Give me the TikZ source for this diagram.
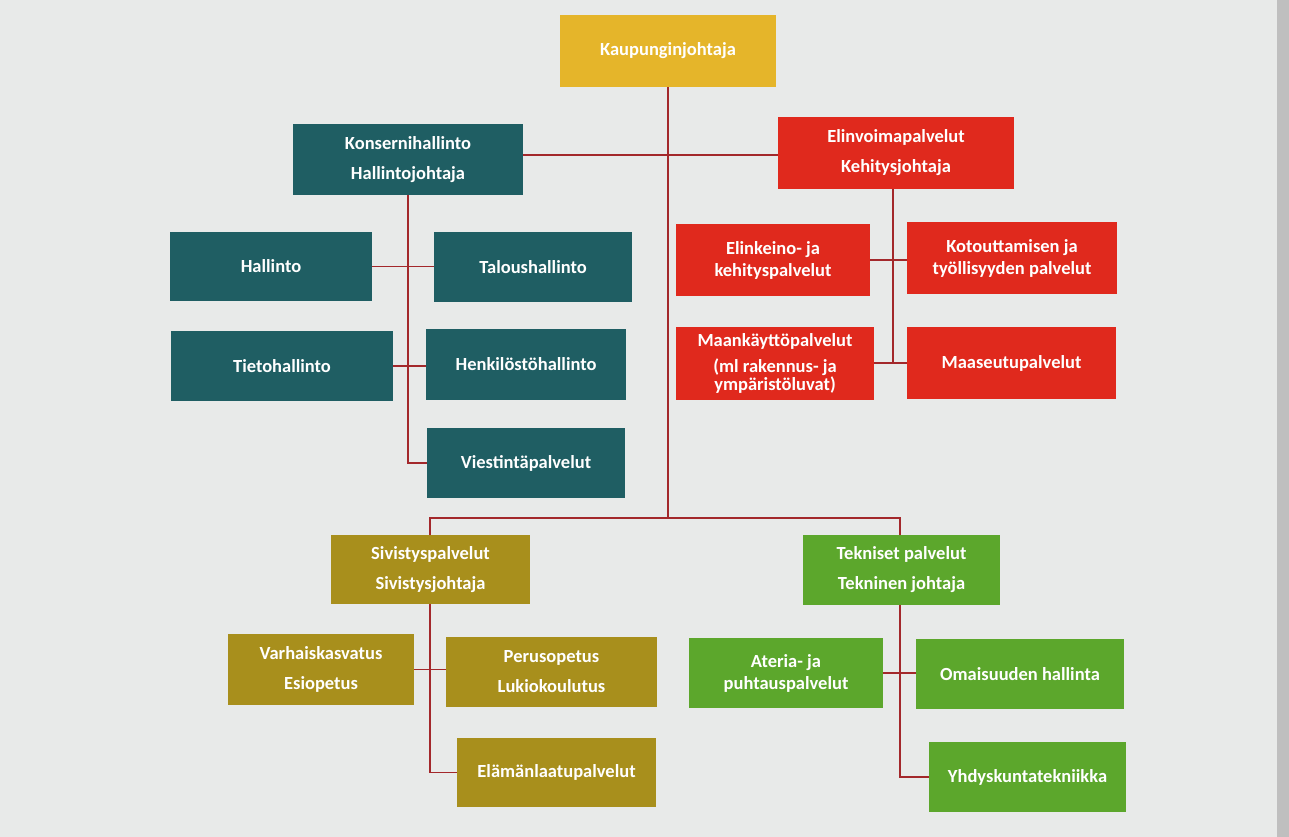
\documentclass[tikz,border=0pt]{standalone}
\usepackage{fontspec}
\setmainfont{Carlito}
\definecolor{bg}{HTML}{E8EAE9}
\definecolor{cgold}{HTML}{E5B52A}
\definecolor{cteal}{HTML}{1F5E63}
\definecolor{cred}{HTML}{E0291D}
\definecolor{colive}{HTML}{A88F1C}
\definecolor{cgreen}{HTML}{5CA72C}
\definecolor{cline}{HTML}{A3282B}
\begin{document}
\begin{tikzpicture}[x=1pt,y=-1pt,
 box/.style={draw=none,text=white,font=\bfseries\fontsize{18.5}{30}\selectfont,align=center,inner sep=0pt},
 ln/.style={draw=cline,line width=1.4pt}]
\fill[bg] (0,0) rectangle (1289,837);
\fill[black!25] (1277,0) rectangle (1289,837);
\newcommand\bx[7]{\node[box,fill=#6,minimum width={#4-#2},minimum height={#5-#3}] (#1) at ({(#2+#4)/2},{(#3+#5)/2}) {#7};}
\bx{kj}{560}{15}{776}{87}{cgold}{Kaupunginjohtaja}
\bx{kh}{293}{124}{523}{195}{cteal}{Konsernihallinto\\Hallintojohtaja}
\bx{ev}{778}{117}{1014}{189}{cred}{Elinvoimapalvelut\\Kehitysjohtaja}
\bx{ha}{170}{232}{372}{301}{cteal}{Hallinto}
\bx{ta}{434}{232}{632}{302}{cteal}{Taloushallinto}
\bx{ti}{171}{331}{393}{401}{cteal}{Tietohallinto}
\bx{he}{426}{329}{626}{400}{cteal}{Henkilöstöhallinto}
\bx{vi}{427}{428}{625}{498}{cteal}{Viestintäpalvelut}
\bx{el}{676}{224}{870}{296}{cred}{Elinkeino- ja\\[-8pt]kehityspalvelut}
\bx{ko}{907}{222}{1117}{294}{cred}{Kotouttamisen ja\\[-8pt]työllisyyden palvelut}
\bx{ma}{676}{327}{874}{400}{cred}{Maankäyttöpalvelut\\[-4pt](ml rakennus- ja\\[-12pt]ympäristöluvat)}
\bx{ms}{907}{327}{1116}{399}{cred}{Maaseutupalvelut}
\bx{si}{331}{535}{530}{604}{colive}{Sivistyspalvelut\\Sivistysjohtaja}
\bx{te}{803}{535}{1000}{605}{cgreen}{Tekniset palvelut\\Tekninen johtaja}
\bx{va}{228}{634}{414}{705}{colive}{Varhaiskasvatus\\Esiopetus}
\bx{pe}{446}{637}{657}{707}{colive}{Perusopetus\\Lukiokoulutus}
\bx{ela}{457}{738}{656}{807}{colive}{Elämänlaatupalvelut}
\bx{at}{689}{638}{883}{708}{cgreen}{Ateria- ja\\[-8pt]puhtauspalvelut}
\bx{om}{916}{639}{1124}{709}{cgreen}{Omaisuuden hallinta}
\bx{yh}{929}{742}{1126}{812}{cgreen}{Yhdyskuntatekniikka}
\coordinate (j1) at (668,155);
\coordinate (j2) at (668,518);
\coordinate (kt) at (408,195);
\coordinate (et) at (893,189);
\coordinate (st) at (430,604);
\coordinate (tt) at (900,605);
% main
\draw[ln] (668,87) -- (j2);
\draw[ln] (kh.east |- j1) -- (ev.west |- j1);
\draw[ln] (si.north -| st) |- (j2) -| (te.north -| tt);
% konserni
\draw[ln] (kt) |- (vi.west);
\draw[ln] (ha.east) -- (ta.west |- ha.east);
\draw[ln] (ti.east) -- (he.west |- ti.east);
% elinvoima
\draw[ln] (et) -- (893,363);
\draw[ln] (el.east) -- (ko.west |- el.east);
\draw[ln] (ma.east |- 0,363) -- (ms.west |- 0,363);
% sivistys
\draw[ln] (st) |- (ela.west);
\draw[ln] (va.east) -- (pe.west |- va.east);
% tekniset
\draw[ln] (tt) |- (yh.west);
\draw[ln] (at.east) -- (om.west |- at.east);
\end{tikzpicture}
\end{document}
